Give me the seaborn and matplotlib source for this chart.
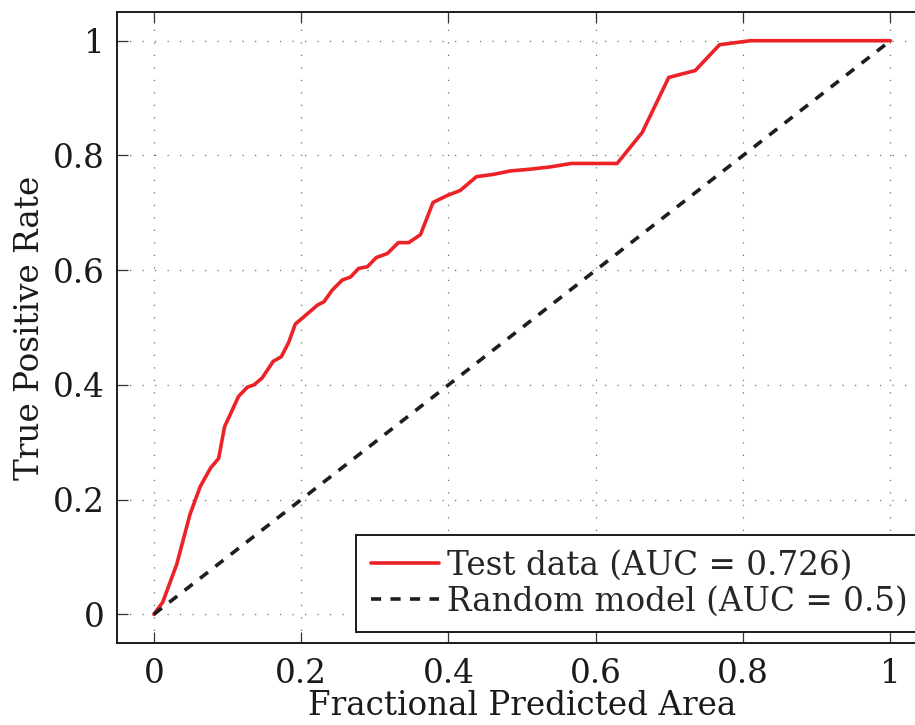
import numpy as np
import pandas as pd
import matplotlib
matplotlib.use("Agg")
import matplotlib.pyplot as plt
import seaborn as sns

# ROC-style curve: fraction of predicted area vs. true positive rate
frac_area = [0.0, 0.012, 0.031, 0.049, 0.063, 0.077, 0.088, 0.096, 0.115, 0.127,
             0.136, 0.147, 0.162, 0.173, 0.183, 0.192, 0.204, 0.222, 0.231, 0.242,
             0.256, 0.267, 0.278, 0.290, 0.302, 0.317, 0.332, 0.346, 0.362, 0.379,
             0.398, 0.416, 0.438, 0.461, 0.484, 0.511, 0.538, 0.567, 0.629, 0.663,
             0.699, 0.735, 0.768, 0.810, 1.0]
tpr = [0.0, 0.021, 0.087, 0.174, 0.223, 0.255, 0.272, 0.327, 0.380, 0.396,
       0.400, 0.412, 0.441, 0.449, 0.474, 0.506, 0.519, 0.539, 0.545, 0.565,
       0.583, 0.588, 0.603, 0.606, 0.622, 0.629, 0.648, 0.648, 0.662, 0.718,
       0.730, 0.739, 0.763, 0.767, 0.773, 0.776, 0.780, 0.786, 0.786, 0.840,
       0.936, 0.948, 0.993, 1.0, 1.0]
random_x = [0.0, 1.0]
random_y = [0.0, 1.0]
auc_test = 0.726
auc_random = 0.5
ticks = [0, 0.2, 0.4, 0.6, 0.8, 1]
tick_labels = ["0", "0.2", "0.4", "0.6", "0.8", "1"]

sns.set_style("white")
plt.rcParams["font.family"] = ["DejaVu Serif"]
plt.rcParams["mathtext.fontset"] = "dejavuserif"

FS = 23.5
TXT = "#1a1a1a"

fig = plt.figure(figsize=(9.15, 7.25), dpi=100)
# the plot box runs slightly past the right edge of the canvas
ax = fig.add_axes([0.1279, 0.1131, 0.8855, 0.8703])

test_df = pd.DataFrame({"x": frac_area, "y": tpr})
rand_df = pd.DataFrame({"x": random_x, "y": random_y})

sns.lineplot(data=test_df, x="x", y="y", ax=ax, sort=False, estimator=None,
             color="#ec2227", linewidth=2.6,
             label=f"Test data (AUC = {auc_test})", zorder=3)
sns.lineplot(data=rand_df, x="x", y="y", ax=ax, sort=False, estimator=None,
             color="#1e1e1e", linewidth=2.6, dashes=False,
             label=f"Random model (AUC = {auc_random})", zorder=3)
ax.lines[1].set_linestyle((0, (2.8, 2.6)))

ax.set_xlim(-0.05, 1.05)
ax.set_ylim(-0.05, 1.05)
ax.set_xticks(ticks)
ax.set_xticklabels(tick_labels)
ax.set_yticks(ticks)
ax.set_yticklabels(tick_labels)

ax.grid(True, color="#6e6e6e", linestyle=(0, (1, 9)), linewidth=0.9)
ax.set_axisbelow(True)

for s in ax.spines.values():
    s.set_color(TXT)
    s.set_linewidth(1.4)
    s.set_visible(True)

ax.tick_params(axis="both", direction="in", length=8, width=0.9,
               colors="#333333", labelcolor=TXT, labelsize=FS,
               top=True, right=True, left=True, bottom=True)
ax.tick_params(axis="x", pad=11)
ax.tick_params(axis="y", pad=9)

ax.set_xlabel("Fractional Predicted Area", fontsize=FS, color=TXT, labelpad=0)
ax.set_ylabel("True Positive Rate", fontsize=FS, color=TXT, labelpad=5)

leg = ax.legend(loc="lower left", bbox_to_anchor=(356 / 915, 93 / 725),
                bbox_transform=fig.transFigure, borderaxespad=0,
                fontsize=FS, frameon=True, fancybox=False,
                edgecolor=TXT, framealpha=1,
                handlelength=2.08, handletextpad=0.25, labelspacing=0.12,
                borderpad=0.45)
leg.get_frame().set_linewidth(1.4)

fig.savefig("out.png", dpi=100)
